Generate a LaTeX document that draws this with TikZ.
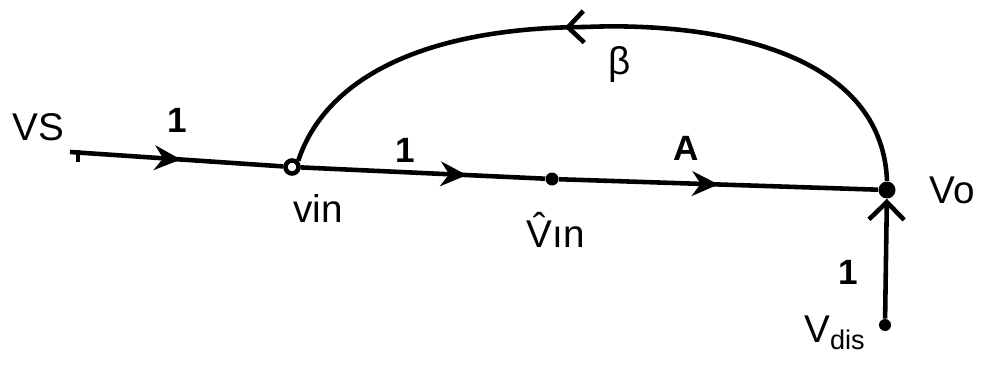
\documentclass[tikz,border=0pt]{standalone}
\usepackage{fontspec}
\setmainfont{Liberation Sans}
\usetikzlibrary{arrows.meta,decorations.markings}
\begin{document}
\begin{tikzpicture}[x=0.02cm,y=-0.02cm,
  ink/.style={line width=2.6pt, draw=black},
  arrowat/.style={postaction={decorate},
    decoration={markings, mark=at position #1 with {\arrow{Stealth[length=15pt,width=14pt]}}}},
  barbat/.style={postaction={decorate},
    decoration={markings, mark=at position #1 with {\arrow{Straight Barb[length=9pt,width=18pt,line width=2.6pt]}}}},
  opennode/.style={circle, draw, line width=2.6pt, fill=white, inner sep=0pt, minimum size=0.26cm},
  dotnode/.style={circle, fill=black, inner sep=0pt, minimum size=#1},
  lbl/.style={font=\fontsize{22}{24}\selectfont, inner sep=0pt},
  gain/.style={font=\bfseries\fontsize{20}{22}\selectfont, inner sep=0pt}
]
\useasboundingbox (0,0) rectangle (990,365);

% nodes
\coordinate (vs) at (70,152);
\node[opennode] (vin) at (292,167) {};
\node[dotnode=0.26cm] (vhat) at (552,179) {};
\node[dotnode=0.34cm] (vo) at (887,190) {};
\node[dotnode=0.24cm] (vdis) at (885,325) {};
\coordinate (top) at (585,27);

% forward path
\draw[ink, arrowat=0.52] (vs) -- (vin);
\draw[ink, arrowat=0.68] (vin) -- (vhat);
\draw[ink, arrowat=0.5] (vhat) -- (vo);

% disturbance
\draw[ink, -{Straight Barb[length=10pt,width=20pt,line width=2.6pt]}] (vdis) -- (vo);

% feedback
\draw[ink] (vo.north) .. controls (882,45) and (700,22) .. (top);
\draw[ink, barbat=0.06] (top) .. controls (420,28) and (325,80) .. (vin.north east);

% small tick at source
\draw[ink] (78,150) -- (78,162);

% labels
\node[lbl] (lvs) at (38,127) {VS};
\node[gain] (g1) at (177,120) {1};
\node[lbl] (lvin) at (318,208) {vin};
\node[gain] (g2) at (405,150) {1};
\node[lbl] (lvhat) at (556,230) {\^{V}ın};
\node[gain] (gA) at (686,148) {A};
\node[lbl] (lb) at (620,65) {β};
\node[lbl] (lvo) at (952,190) {Vo};
\node[gain] (g3) at (848,272) {1};
\node[lbl] (lvdis) at (835,333) {V\textsubscript{dis}};
\end{tikzpicture}
\end{document}
